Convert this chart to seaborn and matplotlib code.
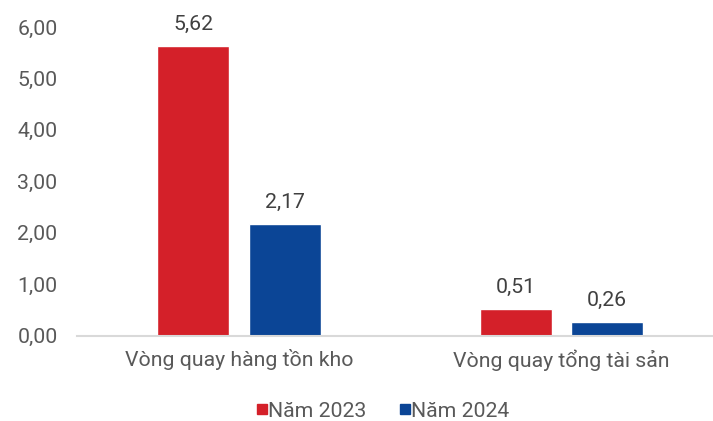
import matplotlib.pyplot as plt
import pandas as pd
import seaborn as sns
from matplotlib.lines import Line2D

# Data
categories = ['Vòng quay hàng tồn kho', 'Vòng quay tổng tài sản']
years = ['Năm 2023', 'Năm 2024']
values_2023 = [5.62, 0.51]
values_2024 = [2.17, 0.26]
colors = ['#d42029', '#0b4596']

df = pd.DataFrame({
    'category': categories * 2,
    'year': [years[0]] * 2 + [years[1]] * 2,
    'value': values_2023 + values_2024,
})

sns.set_style('white')
plt.rcParams['font.family'] = ['Roboto', 'DejaVu Sans']
text_color = '#595959'
fs = 15.3

fig = plt.figure(figsize=(7.13, 4.21), dpi=100)
ax = fig.add_axes([77 / 713, 0.203, 1 - 77 / 713, 0.733])

sns.barplot(data=df, x='category', y='value', hue='year', palette=colors,
            width=0.568, gap=0.214, ax=ax, legend=False, saturation=1)

# value labels
for container in ax.containers:
    labels = [f'{v:.2f}'.replace('.', ',') for v in container.datavalues]
    ax.bar_label(container, labels=labels, padding=9, fontsize=fs,
                 color='#404040', clip_on=False)

ax.set_ylim(0, 6)
ax.set_xlim(-0.502, 1.47)
ax.set_yticks(range(0, 7))
ax.set_yticklabels([f'{v:.2f}'.replace('.', ',') for v in range(0, 7)])
ax.set_xlabel('')
ax.set_ylabel('')
ax.tick_params(axis='y', length=0, pad=14, labelsize=fs, labelcolor=text_color)
ax.tick_params(axis='x', length=0, pad=10, labelsize=fs, labelcolor=text_color)

for side in ['top', 'right', 'left']:
    ax.spines[side].set_visible(False)
ax.spines['bottom'].set_color('#d9d9d9')
ax.spines['bottom'].set_linewidth(1.5)

handles = [Line2D([], [], marker='s', linestyle='', markersize=7.5,
                  markerfacecolor=c, markeredgecolor=c) for c in colors]
fig.legend(handles, years, loc='lower center', bbox_to_anchor=(0.532, -0.045),
           ncol=2, frameon=False, fontsize=fs, handletextpad=-0.3,
           handlelength=1.2, columnspacing=1.2, labelcolor=text_color)

fig.savefig('out.png', dpi=100)
